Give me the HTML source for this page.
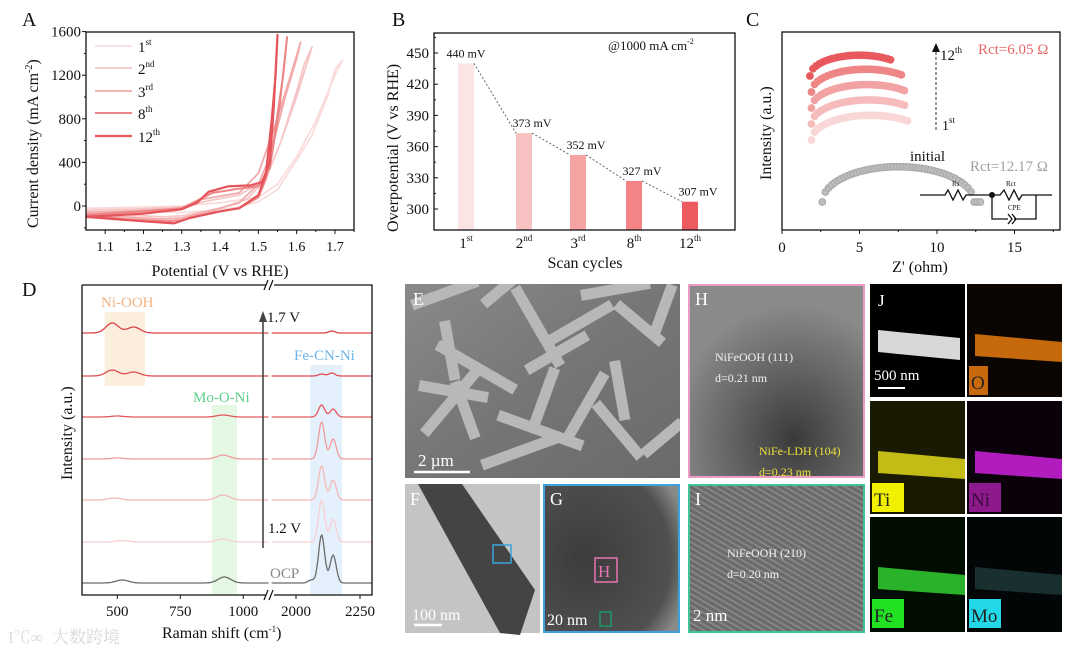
<!DOCTYPE html>
<html><head><meta charset="utf-8"><style>
html,body{margin:0;padding:0;background:#fff}
svg{display:block;font-family:"Liberation Serif","Noto Serif CJK SC",serif}
</style></head><body>
<svg id="fig" width="1080" height="658" viewBox="0 0 1080 658" xmlns="http://www.w3.org/2000/svg">
<defs>
<linearGradient id="gE" x1="0" y1="0" x2="1" y2="1"><stop offset="0" stop-color="#8a8a8a"/><stop offset="0.5" stop-color="#767676"/><stop offset="1" stop-color="#6a6a6a"/></linearGradient>
<radialGradient id="gH" cx="0.6" cy="0.8" r="0.7"><stop offset="0" stop-color="#3a3a3a"/><stop offset="1" stop-color="#8a8a8a"/></radialGradient>
<radialGradient id="gG" cx="0.3" cy="0.5" r="0.8"><stop offset="0" stop-color="#3c3c3c"/><stop offset="0.8" stop-color="#505050"/><stop offset="1" stop-color="#8a8a8a"/></radialGradient>
<pattern id="lat" width="5" height="5" patternUnits="userSpaceOnUse" patternTransform="rotate(-60)"><rect width="5" height="5" fill="#6a6a6a"/><rect width="2" height="5" fill="#858585"/></pattern>
<clipPath id="clipE"><rect x="405" y="284" width="275" height="194"/></clipPath>
</defs>
<g id="layer"></g>
</svg>
<script>
// ---------- DATA ----------
const cvNames = ['1st','2nd','3rd','8th','12th'];
const cvV = [
 [1.05,1.2,1.3,1.4,1.5,1.55,1.6,1.65,1.7,1.72,1.7,1.68,1.64,1.6,1.55,1.5,1.45,1.38,1.3,1.2,1.05],
 [1.05,1.2,1.3,1.36,1.45,1.52,1.56,1.6,1.64,1.62,1.6,1.56,1.52,1.47,1.4,1.3,1.25,1.15,1.05],
 [1.05,1.2,1.3,1.35,1.45,1.5,1.54,1.58,1.61,1.6,1.57,1.53,1.5,1.45,1.38,1.3,1.25,1.15,1.05],
 [1.05,1.2,1.3,1.34,1.38,1.45,1.5,1.53,1.555,1.575,1.565,1.54,1.52,1.5,1.45,1.38,1.3,1.26,1.15,1.05],
 [1.05,1.2,1.3,1.34,1.37,1.42,1.48,1.51,1.53,1.54,1.55,1.545,1.535,1.52,1.5,1.45,1.4,1.32,1.28,1.2,1.05]
];
const cvJ = [
 [-20,-10,0,30,80,200,450,780,1200,1340,1250,1000,650,420,150,40,-10,-40,-60,-50,-20],
 [-40,-25,-10,40,100,250,600,1000,1460,1300,1050,600,250,60,-20,-90,-100,-80,-50],
 [-60,-40,-20,60,120,300,700,1150,1500,1350,1000,450,200,30,-40,-110,-120,-100,-70],
 [-80,-50,-20,50,120,160,180,350,900,1550,1200,600,250,80,-20,-60,-130,-140,-120,-80],
 [-100,-70,-30,30,130,180,190,220,400,900,1570,1200,800,300,100,-20,-50,-110,-160,-140,-100]
];
const cvColors = ['#f9d9d9','#f6c4c4','#f2a9a9','#ec8585','#e4545a'];
const cvWidths = [1.6,1.7,1.8,2,2.2];
const aXTicks = [1.1,1.2,1.3,1.4,1.5,1.6,1.7];
const aYTicks = [0,400,800,1200,1600];

const bCats = ['1','2','3','8','12'];
const bSup = ['st','nd','rd','th','th'];
const bVals = [440,373,352,327,307];
const bColors = ['#fbe4e4','#f8c2c2','#f6a3a3','#f38384','#ee5b5f'];
const bYTicks = [300,330,360,390,420,450];

const cStart = [1.9,1.9,1.9,1.9,1.8];
const cRadius = [3.8,3.7,3.6,3.5,3.2];
const cEnd = [8.2,7.9,7.9,7.8,7.0];
const cOffset = [0,16,32,48,64];
const cColors = ['#fad7d7','#f6bcbc','#f2a2a2','#ee8686','#e8595d'];
const initStart = 2.6, initRadius = 4.9, initEnd = 12.8;
const cXTicks = [0,5,10,15];

const dLabels = ['OCP','1.2V','1.3V','1.4V','1.5V','1.6V','1.7V'];
const dPeaks = [
 [[520,3],[925,6],[2060,3],[2100,48],[2145,28]],
 [[520,1.5],[920,3],[2100,42],[2145,23]],
 [[490,2],[920,5],[2100,34],[2145,20]],
 [[500,1],[920,4],[2100,37],[2145,20]],
 [[500,1],[920,2],[2100,12],[2145,8]],
 [[480,6],[565,4],[2100,2],[2140,3]],
 [[480,10],[565,6],[2140,2]]
];
const dColors = ['#6b6b6b','#f7d0d0','#f5b8b8','#f09c9c','#e4585c','#e04e52','#dc4448'];
const dOffsets = [0,41,83,124,166,207,250];
const dXTicks1 = [500,750,1000];
const dXTicks2 = [2000,2250];

// ---------- DRAW ----------
const NS='http://www.w3.org/2000/svg';
const L=document.getElementById('layer');
function mk(tag,attrs,parent){const e=document.createElementNS(NS,tag);for(const k in attrs)e.setAttribute(k,attrs[k]);(parent||L).appendChild(e);return e;}
function txt(s,x,y,size,opt){opt=opt||{};const t=mk('text',{x:x,y:y,'font-size':size,fill:opt.fill||'#111','text-anchor':opt.anchor||'start'},opt.parent);if(opt.rot)t.setAttribute('transform','rotate(-90 '+x+' '+y+')');t.textContent=s;return t;}

// ===== Panel A =====
const gA=mk('g',{});


const xA=v=>86+(v-1.05)*383, yA=j=>206-j*0.109;
cvV.forEach((vs,i)=>{
  const pts=vs.map((v,k)=>xA(v).toFixed(1)+','+yA(cvJ[i][k]).toFixed(1)).join(' ');
  const p=mk('polyline',{points:pts,fill:'none',stroke:cvColors[i],'stroke-width':cvWidths[i],'stroke-linejoin':'round'},gA);
  
  
});
mk('rect',{x:86,y:32,width:268,height:198,fill:'none',stroke:'#111','stroke-width':1.3},gA);
aXTicks.forEach(v=>{mk('line',{x1:xA(v),x2:xA(v),y1:230,y2:234,stroke:'#111'},gA);mk('line',{x1:xA(v+0.05),x2:xA(v+0.05),y1:230,y2:232,stroke:'#111'},gA);txt(v.toFixed(1),xA(v),251,14,{anchor:'middle',parent:gA});});
aYTicks.forEach(j=>{mk('line',{x1:82,x2:86,y1:yA(j),y2:yA(j),stroke:'#111'},gA);mk('line',{x1:84,x2:86,y1:yA(j-200),y2:yA(j-200),stroke:'#111'},gA);txt(String(j),81,yA(j)+5,15,{anchor:'end',parent:gA});});
txt('Potential (V vs RHE)',220,276,16,{anchor:'middle',parent:gA});
const ayl=txt('Current density (mA cm',38,228,16,{rot:true,parent:gA});
const sp=mk('tspan',{dy:-6,'font-size':10},ayl);sp.textContent='-2';const sp2=mk('tspan',{dy:6},ayl);sp2.textContent=')';
txt('A',22,26,20,{parent:gA});
const legY=[46,68,91,113,136];
cvNames.forEach((n,i)=>{
  const l=mk('line',{x1:95,x2:132,y1:legY[i],y2:legY[i],stroke:cvColors[i],'stroke-width':cvWidths[i]},gA);
  
  
  const t=txt(n.replace(/\D+/g,''),138,legY[i]+6,15,{parent:gA});
  const s=mk('tspan',{dy:-7,'font-size':9},t);s.textContent=n.replace(/\d+/g,'');
});

// ===== Panel B =====
const gB=mk('g',{});


const yB=v=>209-(v-300)*1.04;
const bX=[466,524,578,634,690], bW=16;
let prev=null;
bVals.forEach((v,i)=>{
  const r=mk('rect',{x:bX[i]-bW/2,y:yB(v),width:bW,height:230-yB(v),fill:bColors[i]},gB);
  
  
  if(prev)mk('line',{x1:prev[0],y1:prev[1],x2:bX[i]-bW/2,y2:yB(v),stroke:'#666','stroke-dasharray':'2,2'},gB);
  prev=[bX[i]+bW/2,yB(v)];
  txt(v+' mV',bX[i]+(i===0?0:8),yB(v)-6,12,{anchor:'middle',parent:gB});
  const t=txt(bCats[i],bX[i],248,15,{anchor:'middle',parent:gB});const s=mk('tspan',{dy:-7,'font-size':9},t);s.textContent=bSup[i];
});
mk('rect',{x:434,y:33,width:301,height:197,fill:'none',stroke:'#111','stroke-width':1.3},gB);
bYTicks.forEach(v=>{mk('line',{x1:434,x2:438,y1:yB(v),y2:yB(v),stroke:'#111'},gB);mk('line',{x1:434,x2:436,y1:yB(v+15),y2:yB(v+15),stroke:'#111'},gB);txt(String(v),429,yB(v)+5,15,{anchor:'end',parent:gB});});
txt('Scan cycles',585,268,16,{anchor:'middle',parent:gB});
txt('Overpotential (V vs RHE)',398,232,16,{rot:true,parent:gB});
txt('B',392,26,20,{parent:gB});
const at=txt('@1000 mA cm',608,50,13,{parent:gB});const as=mk('tspan',{dy:-6,'font-size':8},at);as.textContent='-2';

// ===== Panel C =====
const gC=mk('g',{});


const xC=z=>782+z*15.5;
function arc(z0,R,z1,base,k,color,fill,name){
  const g=mk('g',{},gC);
  
  
  const c=z0+R;
  for(let z=z0;z<=z1+0.001;z+=0.2){
    const d=Math.max(0,R*R-(z-c)*(z-c));
    mk('circle',{cx:xC(z),cy:base-k*Math.sqrt(d),r:3.4,fill:fill,stroke:color,'stroke-width':1},g);
  }
}
cStart.forEach((z0,i)=>arc(z0,cRadius[i],cEnd[i],140-cOffset[i],6.5,cColors[i],cColors[i],'eis-arc-'+cvNames[i]));
arc(initStart,initRadius,initEnd,202,7.2,'#a8a8a8','#bdbdbd','eis-arc-initial');
mk('rect',{x:782,y:32,width:278,height:198,fill:'none',stroke:'#111','stroke-width':1.3},gC);
cXTicks.forEach(z=>{mk('line',{x1:xC(z),x2:xC(z),y1:230,y2:234,stroke:'#111'},gC);mk('line',{x1:xC(z+2.5),x2:xC(z+2.5),y1:230,y2:232,stroke:'#111'},gC);txt(String(z),xC(z),252,15,{anchor:'middle',parent:gC});});
txt("Z' (ohm)",920,272,16,{anchor:'middle',parent:gC});
txt('Intensity (a.u.)',771,180,16,{rot:true,parent:gC});
txt('C',746,26,20,{parent:gC});
txt('Rct=6.05 Ω',978,54,15,{fill:'#e8676a',parent:gC});
txt('Rct=12.17 Ω',970,171,15,{fill:'#a0a0a0',parent:gC});
txt('initial',910,161,15,{parent:gC});
mk('line',{x1:936,y1:130,x2:936,y2:50,stroke:'#333','stroke-dasharray':'3,2'},gC);
mk('path',{d:'M932,52 L936,43 L940,52Z',fill:'#111'},gC);
let t12=txt('12',940,60,15,{parent:gC});let s12=mk('tspan',{dy:-7,'font-size':9},t12);s12.textContent='th';
let t1=txt('1',942,130,14,{parent:gC});let s1=mk('tspan',{dy:-7,'font-size':9},t1);s1.textContent='st';
const circ=mk('g',{stroke:'#111','stroke-width':1.3,fill:'none'},gC);


mk('path',{d:'M920,195 L945,195 l3,-5 l5,10 l5,-10 l5,10 l3,-5 L1000,195 l4,-5 l5,10 l5,-10 l5,10 l3,-5 L1052,195 M992,195 L992,219 L1008,219 M1014,219 L1036,219 L1036,195 M1008,214 l4,5 l-4,5 M1012,214 l4,5 l-4,5'},circ);
mk('circle',{cx:992,cy:195,r:3,fill:'#111'},gC);
txt('Rs',952,186,7,{parent:gC});txt('Rct',1006,186,7,{parent:gC});txt('CPE',1008,210,7,{parent:gC});

// ===== Panel D =====
const gD=mk('g',{});


const xD1=w=>82+(w-360)*0.252, xD2=w=>296+(w-2000)*0.256;
const band=(x1,x2,y1,c,n)=>{const r=mk('rect',{x:x1,y:y1,width:x2-x1,height:595-y1,fill:c},gD);return r;};
const b1=band(xD1(450),xD1(610),312,'#fbeedd','ni-ooh-band');b1.setAttribute('height',74);
band(xD1(875),xD1(975),405,'#e4f8e4','mo-o-ni-band');
band(xD2(2055),xD2(2180),365,'#e4f1fc','fe-cn-ni-band');
function spec(i,lo,hi,xf){
  const base=583-dOffsets[i];const pts=[];
  for(let w=lo;w<=hi;w+=4){let s=0;dPeaks[i].forEach(p=>{const wd=p[0]>1500?12:25;s+=p[1]*Math.exp(-((w-p[0])*(w-p[0]))/(2*wd*wd));});pts.push(xf(w).toFixed(1)+','+(base-s).toFixed(1));}
  const pl=mk('polyline',{points:pts.join(' '),fill:'none',stroke:dColors[i],'stroke-width':1.3},gD);
  
  
}
dLabels.forEach((n,i)=>{spec(i,360,1100,xD1);spec(i,1905,2300,xD2);});
mk('path',{d:'M82,285 L266,285 M274,285 L372,285 L372,595 L274,595 M266,595 L82,595 L82,285',fill:'none',stroke:'#111','stroke-width':1.3},gD);
mk('path',{d:'M264,290 l4,-10 M269,290 l4,-10 M264,600 l4,-10 M269,600 l4,-10',stroke:'#111','stroke-width':1.2},gD);
dXTicks1.forEach(w=>{mk('line',{x1:xD1(w),x2:xD1(w),y1:595,y2:599,stroke:'#111'},gD);txt(String(w),xD1(w),616,15,{anchor:'middle',parent:gD});});
dXTicks2.forEach(w=>{mk('line',{x1:xD2(w),x2:xD2(w),y1:595,y2:599,stroke:'#111'},gD);txt(String(w),xD2(w),616,15,{anchor:'middle',parent:gD});});
const dx=txt('Raman shift (cm',162,638,16,{parent:gD});const ds=mk('tspan',{dy:-6,'font-size':9},dx);ds.textContent='-1';const ds2=mk('tspan',{dy:6},dx);ds2.textContent=')';
txt('Intensity (a.u.)',72,480,16,{rot:true,parent:gD});
txt('D',22,296,20,{parent:gD});
txt('Ni-OOH',101,307,15,{fill:'#f0b383',parent:gD});
txt('Mo-O-Ni',193,402,15,{fill:'#5ccf8c',parent:gD});
txt('Fe-CN-Ni',294,360,15,{fill:'#6db6ea',parent:gD});
txt('1.7 V',267,322,15,{parent:gD});
txt('1.2 V',268,533,15,{parent:gD});
txt('OCP',270,578,15,{fill:'#888',parent:gD});
mk('line',{x1:263,y1:548,x2:263,y2:320,stroke:'#444','stroke-width':1.6},gD);
mk('path',{d:'M259,322 L263,311 L267,322Z',fill:'#444'},gD);
txt('大数跨境',52,643,17,{fill:'#d8d8d8',parent:gD});
txt('I℃∞',8,643,17,{fill:'#dcdcdc',parent:gD});

// ===== Micrographs =====
function panel(x,y,w,h,fill,stroke,name){const r=mk('rect',{x:x,y:y,width:w,height:h,fill:fill,stroke:stroke||'none','stroke-width':2});return r;}
panel(405,284,275,194,'url(#gE)',null,'sem-image-e');
const cl=mk('g',{'clip-path':'url(#clipE)'});
const rods=[[410,300,70,-20],[440,340,90,30],[480,300,80,-40],[520,285,90,60],[580,290,70,-10],[620,300,60,40],[420,430,80,-50],[500,410,90,20],[560,440,80,-60],[460,380,60,70],[620,360,60,80],[540,340,80,-30],[600,400,70,50],[420,380,70,10],[650,330,50,-70],[480,460,80,-20],[560,370,60,110],[640,450,50,-40],[450,320,60,80],[590,340,70,150]];
rods.forEach(r=>mk('rect',{x:r[0],y:r[1],width:r[2],height:11,fill:'#b8b8b8',transform:'rotate('+r[3]+' '+r[0]+' '+r[1]+')'},cl));
txt('E',413,305,18,{fill:'#fff'});txt('2 µm',418,466,17,{fill:'#fff'});mk('line',{x1:414,x2:470,y1:472,y2:472,stroke:'#fff','stroke-width':2.5});
panel(689,285,175,192,'url(#gH)','#ec9bc6','hrtem-image-h');
txt('H',695,305,18,{fill:'#fff'});txt('NiFeOOH (111)',715,361,12,{fill:'#f2f2f2'});txt('d=0.21 nm',715,382,12,{fill:'#f2f2f2'});
txt('NiFe-LDH (104)',759,455,12,{fill:'#ede03a'});txt('d=0.23 nm',759,476,12,{fill:'#ede03a'});
txt('5 nm',693,520,17,{fill:'#fff'});
panel(405,484,135,149,'#c4c4c4',null,'tem-image-f');
mk('path',{d:'M418,484 L462,484 L535,590 L520,635 L500,633 Z',fill:'#444'});
mk('rect',{x:493,y:545,width:18,height:18,fill:'none',stroke:'#3aa3dc','stroke-width':1.5});
txt('F',410,505,18,{fill:'#fff'});txt('100 nm',412,620,16,{fill:'#fff'});mk('line',{x1:414,x2:442,y1:625,y2:625,stroke:'#fff','stroke-width':2.5});
panel(544,485,135,147,'url(#gG)','#3aa3dc','tem-image-g');
txt('G',550,505,18,{fill:'#fff'});
mk('rect',{x:595,y:558,width:22,height:24,fill:'none',stroke:'#e774b5','stroke-width':1.5});txt('H',598,577,17,{fill:'#e774b5'});
mk('rect',{x:600,y:612,width:11,height:14,fill:'none',stroke:'#1a9a6a','stroke-width':1.5});
txt('20 nm',547,625,16,{fill:'#fff'});
panel(689,485,175,147,'url(#lat)','#3fc39c','hrtem-image-i');
txt('I',695,505,18,{fill:'#fff'});txt('NiFeOOH (210)',727,557,12,{fill:'#f2f2f2'});txt('d=0.20 nm',727,578,12,{fill:'#f2f2f2'});txt('2 nm',693,621,17,{fill:'#fff'});
const tiles=[[870,284,'#000',null,'','J'],[967,284,'#0c0602','#d9740d','O','O'],[870,401,'#1a1a02','#d6ce1a','Ti','Ti'],[967,401,'#0b010b','#c21fd0','Ni','Ni'],[870,517,'#010d01','#2fc52f','Fe','Fe'],[967,517,'#030606','#1d3434','Mo','Mo']];
const labBg={O:'#c8690e',Ti:'#f0f000',Ni:'#8c1a8c',Fe:'#22e022',Mo:'#22d8e8'};
tiles.forEach((t,i)=>{
  panel(t[0],t[1],95,i<4?113:115,t[2],null,'eds-map-'+(t[5]||'j').toLowerCase());
  if(i===0){mk('path',{d:'M878,330 L960,338 L960,360 L878,352Z',fill:'#d8d8d8'});txt('J',878,306,17,{fill:'#fff'});txt('500 nm',874,380,15,{fill:'#fff'});mk('line',{x1:878,x2:905,y1:388,y2:388,stroke:'#fff','stroke-width':2});}
  else{const yy=t[1]+50;mk('path',{d:'M'+(t[0]+8)+','+yy+' L'+(t[0]+95)+','+(yy+8)+' L'+(t[0]+95)+','+(yy+28)+' L'+(t[0]+8)+','+(yy+22)+'Z',fill:t[3],opacity:0.9});
    mk('rect',{x:t[0]+2,y:t[1]+82,width:t[4].length*13+6,height:29,fill:labBg[t[4]]});txt(t[4],t[0]+4,t[1]+105,19,{fill:t[4]==='Ni'?'#3a0a3a':'#222'});}
});
</script>
</body></html>
